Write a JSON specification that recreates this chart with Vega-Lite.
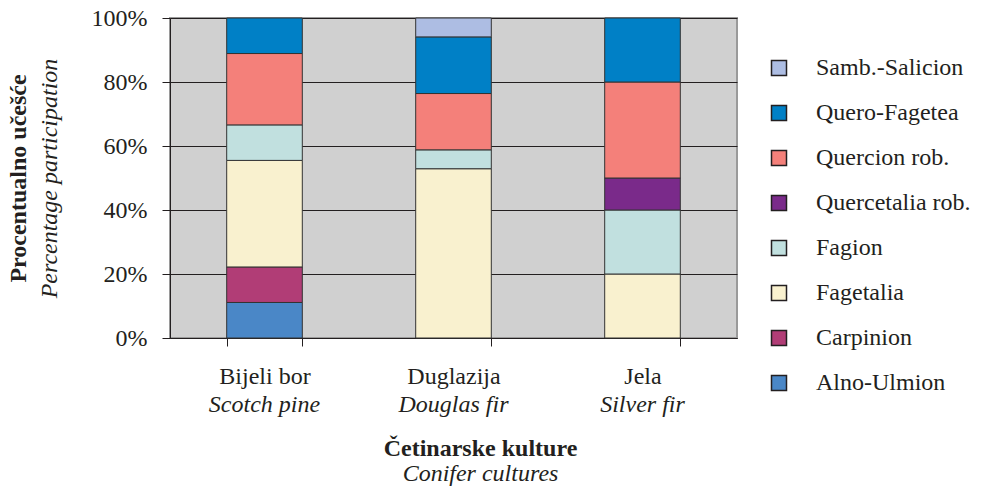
{
  "$schema": "https://vega.github.io/schema/vega-lite/v6.json",
  "width": 567,
  "height": 320,
  "padding": {"left": 6, "top": 6, "right": 5, "bottom": 0},
  "background": "white",
  "config": {
    "font": "Liberation Serif",
    "view": {"fill": "#d0d0d0", "stroke": "#9a9a9a", "strokeWidth": 2},
    "axis": {"labelFont": "Liberation Serif", "labelFontSize": 24, "labelColor": "#231f20", "titleFont": "Liberation Serif", "titleFontSize": 24, "titleColor": "#231f20"}
  },
  "data": {"values": [
    {"culture": "Bijeli bor", "group": "Alno-Ulmion", "pct": 11.1},
    {"culture": "Bijeli bor", "group": "Carpinion", "pct": 11.1},
    {"culture": "Bijeli bor", "group": "Fagetalia", "pct": 33.3},
    {"culture": "Bijeli bor", "group": "Fagion", "pct": 11.1},
    {"culture": "Bijeli bor", "group": "Quercion rob.", "pct": 22.3},
    {"culture": "Bijeli bor", "group": "Quero-Fagetea", "pct": 11.1},
    {"culture": "Duglazija", "group": "Fagetalia", "pct": 52.9},
    {"culture": "Duglazija", "group": "Fagion", "pct": 5.9},
    {"culture": "Duglazija", "group": "Quercion rob.", "pct": 17.6},
    {"culture": "Duglazija", "group": "Quero-Fagetea", "pct": 17.7},
    {"culture": "Duglazija", "group": "Samb.-Salicion", "pct": 5.9},
    {"culture": "Jela", "group": "Fagetalia", "pct": 20},
    {"culture": "Jela", "group": "Fagion", "pct": 20},
    {"culture": "Jela", "group": "Quercetalia rob.", "pct": 10},
    {"culture": "Jela", "group": "Quercion rob.", "pct": 30},
    {"culture": "Jela", "group": "Quero-Fagetea", "pct": 20}
  ]},
  "layer": [
    {
      "mark": {"type": "bar", "stroke": "#333333", "strokeWidth": 1},
      "encoding": {
        "x": {"field": "culture", "type": "nominal", "sort": ["Bijeli bor", "Duglazija", "Jela"],
          "scale": {"paddingInner": 0.6, "paddingOuter": 0.3},
          "axis": {"orient": "bottom", "title": null, "labelAngle": 0, "ticks": false, "domain": false, "grid": false, "labelFontStyle": "italic", "labelPadding": 54,
            "labelExpr": "datum.value == 'Bijeli bor' ? 'Scotch pine' : datum.value == 'Duglazija' ? 'Douglas fir' : 'Silver fir'"}},
        "y": {"field": "pct", "type": "quantitative", "stack": "zero", "scale": {"domain": [0, 100]},
          "axis": {"orient": "left", "title": "Procentualno učešće", "titleFontWeight": "bold", "labels": false, "ticks": false, "domain": false, "grid": false, "titlePadding": 140}},
        "color": {"field": "group", "type": "nominal",
          "scale": {
            "domain": ["Samb.-Salicion", "Quero-Fagetea", "Quercion rob.", "Quercetalia rob.", "Fagion", "Fagetalia", "Carpinion", "Alno-Ulmion"],
            "range": ["#adbde3", "#0080c6", "#f4807a", "#7a2a8a", "#c1e0df", "#f9f1cf", "#b13d76", "#4a87c7"]
          },
          "legend": {"title": null, "orient": "none", "legendX": 597, "legendY": 38, "symbolType": "square", "symbolSize": 225, "symbolStrokeColor": "#231f20", "symbolStrokeWidth": 1.5, "symbolOpacity": 1, "labelFont": "Liberation Serif", "labelFontSize": 24, "labelColor": "#231f20", "labelOffset": 25, "rowPadding": 21, "padding": 0}},
        "order": {"field": "group", "sort": "ascending"}
      }
    },
    {
      "mark": {"type": "bar", "opacity": 0},
      "encoding": {
        "x": {"field": "culture", "type": "nominal", "sort": ["Bijeli bor", "Duglazija", "Jela"],
          "scale": {"paddingInner": 0.6, "paddingOuter": 0.3},
          "axis": {"orient": "bottom", "title": null, "labelAngle": 0, "tickBand": "extent", "tickSize": 8, "tickColor": "#231f20", "domainColor": "#231f20", "labelPadding": 18, "grid": false}},
        "y": {"field": "pct", "type": "quantitative", "stack": "zero", "scale": {"domain": [0, 100]},
          "axis": {"orient": "left", "values": [0, 20, 40, 60, 80, 100], "labelExpr": "datum.value + '%'", "labelFontSize": 24, "title": "Percentage participation", "titleFontStyle": "italic", "titleFontWeight": "normal", "grid": true, "gridColor": "#231f20", "gridOpacity": 1, "tickSize": 8, "domainColor": "#231f20", "tickColor": "#231f20", "labelPadding": 15, "titlePadding": 30}}
      }
    }
  ],
  "resolve": {"scale": {"x": "independent", "y": "independent"}},
  "title": {"text": "Četinarske kulture", "subtitle": "Conifer cultures", "orient": "bottom", "anchor": "middle", "font": "Liberation Serif", "fontSize": 24, "fontWeight": "bold", "color": "#231f20", "subtitleFont": "Liberation Serif", "subtitleFontSize": 24, "subtitleFontStyle": "italic", "subtitleColor": "#231f20", "dx": 27, "offset": 21, "subtitlePadding": 1}
}
